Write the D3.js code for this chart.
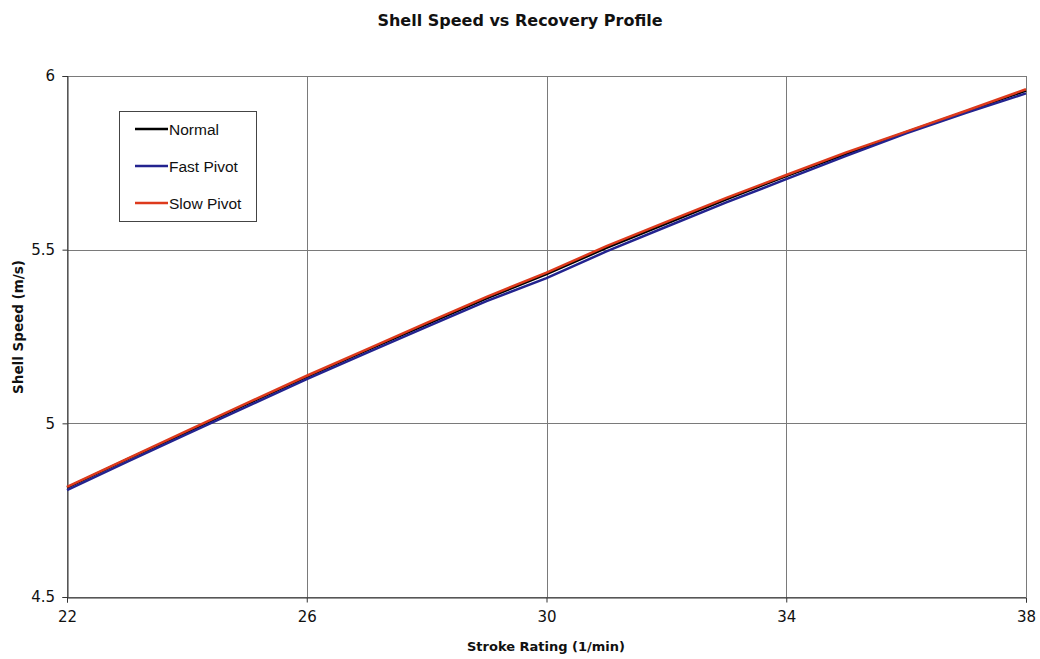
<!DOCTYPE html>
<html><head><meta charset="utf-8">
<script src="https://cdn.jsdelivr.net/npm/d3@7"></script>
<style>body{margin:0;background:#fff}</style>
</head><body>
<svg id="c" width="1040" height="659"></svg>
<script>
const strokeRates = [22,23,24,25,26,27,28,29,30,31,32,33,34,35,36,37,38];
const normal = [4.815,4.896,4.975,5.055,5.134,5.210,5.285,5.360,5.430,5.505,5.575,5.645,5.712,5.776,5.838,5.898,5.958];
const fastPivot = [4.808,4.889,4.969,5.048,5.127,5.203,5.278,5.352,5.418,5.495,5.566,5.636,5.703,5.770,5.835,5.894,5.950];
const slowPivot = [4.817,4.898,4.978,5.058,5.137,5.213,5.289,5.364,5.434,5.510,5.580,5.649,5.715,5.780,5.840,5.900,5.962];
const xTicks = [22,26,30,34,38];
const yTicks = [4.5,5,5.5,6];
const seriesNames = ["Normal","Fast Pivot","Slow Pivot"];
const seriesColors = ["#000000","#23238f","#dd3a1c"];

const svg = d3.select("#c");
const L=67, R=1026, T=76, B=597;
const x = d3.scaleLinear().domain([22,38]).range([L,R]);
const y = d3.scaleLinear().domain([4.5,6]).range([B,T]);

// gridlines
svg.append("g").selectAll("line").data(xTicks).join("line")
  .attr("x1",d=>Math.round(x(d))+0.5).attr("x2",d=>Math.round(x(d))+0.5)
  .attr("y1",T).attr("y2",B).attr("stroke","#7a7a7a").attr("stroke-width",1);
svg.append("g").selectAll("line").data(yTicks).join("line")
  .attr("y1",d=>Math.round(y(d))+0.5).attr("y2",d=>Math.round(y(d))+0.5)
  .attr("x1",L).attr("x2",R).attr("stroke","#7a7a7a").attr("stroke-width",1);

// axes
const xAxis = d3.axisBottom(x).tickValues(xTicks).tickSize(5).tickFormat(d3.format("d"));
const yAxis = d3.axisLeft(y).tickValues(yTicks).tickSize(5).tickFormat(d=>String(d));
const gx = svg.append("g").attr("transform",`translate(0,${B+0.5})`).call(xAxis);
const gy = svg.append("g").attr("transform",`translate(${L+0.5},0)`).call(yAxis);
[gx,gy].forEach(g=>{
  g.select(".domain").attr("stroke","#333");
  g.selectAll(".tick line").attr("stroke","#333");
  g.selectAll("text").attr("font-family","DejaVu Sans").attr("font-size",15).attr("fill","#111");
});
gx.selectAll("text").attr("dy","1.1em");
gy.selectAll("text").attr("dx","-0.3em");

// lines
const line = d3.line().x((d,i)=>x(strokeRates[i])).y(d=>y(d));
[normal,fastPivot,slowPivot].forEach((s,i)=>{
  svg.append("path").datum(s).attr("d",line).attr("fill","none")
    .attr("stroke",seriesColors[i]).attr("stroke-width",2.5);
});

// title and axis labels
svg.append("text").attr("x",520).attr("y",26).attr("text-anchor","middle")
  .attr("font-family","DejaVu Sans").attr("font-weight","bold").attr("font-size",16)
  .attr("fill","#111").text("Shell Speed vs Recovery Profile");
svg.append("text").attr("x",546).attr("y",651).attr("text-anchor","middle")
  .attr("font-family","DejaVu Sans").attr("font-weight","bold").attr("font-size",13)
  .attr("fill","#111").text("Stroke Rating (1/min)");
svg.append("text").attr("transform","translate(23,327) rotate(-90)").attr("text-anchor","middle")
  .attr("font-family","DejaVu Sans").attr("font-weight","bold").attr("font-size",13.5)
  .attr("fill","#111").text("Shell Speed (m/s)");

// legend
const lg = svg.append("g");
lg.append("rect").attr("x",119.5).attr("y",111.5).attr("width",137).attr("height",110)
  .attr("fill","#fff").attr("stroke","#444").attr("stroke-width",1);
const ly = d3.scalePoint().domain(seriesNames).range([129,203]);
seriesNames.forEach((n,i)=>{
  lg.append("line").attr("x1",135).attr("x2",168).attr("y1",ly(n)).attr("y2",ly(n))
    .attr("stroke",seriesColors[i]).attr("stroke-width",2.5);
  lg.append("text").attr("x",169).attr("y",ly(n)+5.5).attr("font-family","Liberation Sans, Arial")
    .attr("font-size",15.5).attr("fill","#111").text(n);
});
</script>
</body></html>
